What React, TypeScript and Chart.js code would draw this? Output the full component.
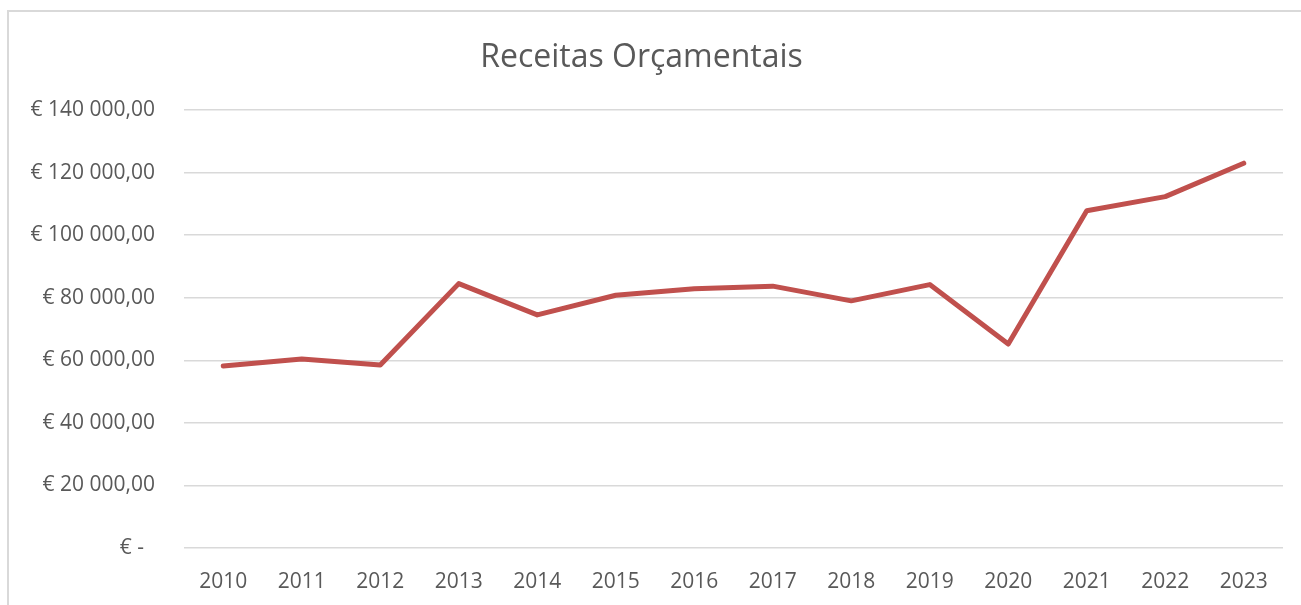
import React, { useEffect, useRef } from "react";
import { Chart, registerables } from "chart.js";

Chart.register(...registerables);

const years = ["2010", "2011", "2012", "2013", "2014", "2015", "2016", "2017", "2018", "2019", "2020", "2021", "2022", "2023"];
const receitas = [58200, 60400, 58500, 84500, 74500, 80800, 82900, 83700, 79000, 84200, 65200, 107800, 112300, 123000];
const chartTitle = "Receitas Orçamentais";
const yMax = 140000;
const yStep = 20000;

function fmtEuro(v: number): string {
  if (v === 0) return "€ -  ";
  const s = Math.round(v).toString().replace(/\B(?=(\d{3})+(?!\d))/g, " ");
  return "€ " + s + ",00";
}

export default function App() {
  const ref = useRef<HTMLCanvasElement | null>(null);
  useEffect(() => {
    document.body.style.margin = "0";
    const ctx = ref.current!;
    const chart = new Chart(ctx, {
      type: "line",
      data: {
        labels: years,
        datasets: [
          {
            label: "Receitas",
            data: receitas,
            borderColor: "#C0504D",
            backgroundColor: "#C0504D",
            borderWidth: 5,
            pointRadius: 0,
            tension: 0,
            borderCapStyle: "round",
            borderJoinStyle: "round",
          },
        ],
      },
      options: {
        animation: false,
        responsive: false,
        maintainAspectRatio: false,
        layout: { padding: { top: 0, left: 0, right: 18, bottom: 0 } },
        plugins: {
          legend: { display: false },
          tooltip: { enabled: false },
          title: {
            display: true,
            text: chartTitle,
            color: "#595959",
            font: { family: "'Open Sans', sans-serif", size: 32, weight: "normal" },
            padding: { top: 39, bottom: 32.6 },
          },
        },
        scales: {
          x: {
            offset: true,
            grid: { display: false, drawTicks: false },
            border: { display: false },
            ticks: {
              color: "#595959",
              font: { family: "'Open Sans', sans-serif", size: 21 },
              padding: 21,
              maxRotation: 0,
            },
            afterFit: (s: any) => {
              s.height = 57;
            },
          },
          y: {
            min: 0,
            max: yMax,
            grid: { color: "#d9d9d9", lineWidth: 1.5, drawTicks: false },
            border: { display: false },
            ticks: {
              stepSize: yStep,
              color: "#595959",
              font: { family: "'Open Sans', sans-serif", size: 21 },
              padding: 29,
              callback: (v: any) => fmtEuro(Number(v)),
            },
            afterFit: (s: any) => {
              s.width = 184;
            },
          },
        },
      },
    });
    return () => chart.destroy();
  }, []);
  return (
    <div style={{ position: "fixed", left: 0, top: 0, width: 1301, height: 605, background: "#fff", overflow: "hidden" }}>
      <div
        style={{
          position: "absolute",
          left: 7,
          top: 10,
          width: 1400,
          height: 700,
          borderLeft: "2px solid #d9d9d9",
          borderTop: "2px solid #d9d9d9",
        }}
      />
      <canvas ref={ref} width={1301} height={605} style={{ position: "absolute", left: 0, top: 0 }} />
    </div>
  );
}
